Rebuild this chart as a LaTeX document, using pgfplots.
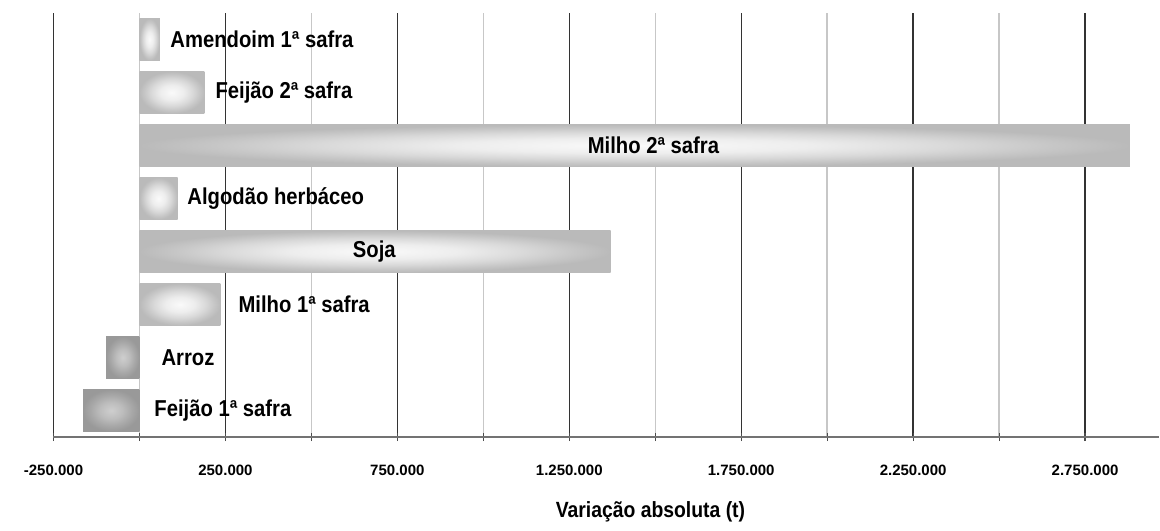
\documentclass[border=0pt]{standalone}
\usepackage{pgfplots}
\pgfplotsset{compat=1.18}
\usepackage{fontspec}
\setmainfont{Liberation Sans}
\newfontfamily\cond[FakeStretch=0.88]{Liberation Sans}
\pgfdeclareradialshading{barpos}{\pgfpoint{0bp}{0bp}}{color(0bp)=(white!98!black); color(9bp)=(white!93!black); color(16bp)=(white!85!black); color(21bp)=(white!78!black); color(25bp)=(white!73!black); color(50bp)=(white!73!black)}
\pgfdeclareradialshading{barneg}{\pgfpoint{0bp}{0bp}}{color(0bp)=(white!81!black); color(10bp)=(white!74!black); color(18bp)=(white!66!black); color(25bp)=(white!60!black); color(50bp)=(white!60!black)}
\begin{document}
\begin{tikzpicture}
\begin{axis}[
  scale only axis, width=552.75pt, height=212pt,
  xmin=-250000, xmax=2965000, ymin=0.5, ymax=8.5,
  axis x line*=bottom, axis y line=none,
  x axis line style={black!55, line width=0.9pt},
  scaled x ticks=false,
  xtick={-250000,250000,750000,1250000,1750000,2250000,2750000},
  xticklabels={-250.000,250.000,750.000,1.250.000,1.750.000,2.250.000,2.750.000},
  minor xtick={0,500000,1000000,1500000,2000000,2500000},
  xmajorgrids, xminorgrids,
  major grid style={black!80, line width=0.7pt},
  minor grid style={black!22, line width=0.7pt},
  tick align=center, major tick length=4pt, minor tick length=4pt,
  tick style={black!70, line width=0.6pt},
  xticklabel style={font=\bfseries\fontsize{7.5}{9}\selectfont, anchor=center, yshift=-14.5pt},
  xlabel={Variação absoluta (t)},
  xlabel style={at={(rel axis cs:0.54,0)}, anchor=center, yshift=-37.5pt, font=\cond\bfseries\fontsize{11}{13}\selectfont},
  ytick=\empty,
  clip=false,
  pos/.style={xbar, bar width=0.79, bar shift=0pt, draw=none, shade, shading=barpos},
  neg/.style={xbar, bar width=0.79, bar shift=0pt, draw=none, shade, shading=barneg},
]
\addplot[pos] coordinates {(59000,8)};
\addplot[pos] coordinates {(189000,7)};
\addplot[pos] coordinates {(2880000,6)};
\addplot[pos] coordinates {(111000,5)};
\addplot[pos] coordinates {(1370000,4)};
\addplot[pos] coordinates {(235000,3)};
\addplot[neg] coordinates {(-97000,2)};
\addplot[neg] coordinates {(-164000,1)};
\begin{scope}[every node/.style={inner sep=0pt, font=\cond\bfseries\fontsize{11.5}{13}\selectfont}]
\node[anchor=west] at (axis cs:89000,8) {Amendoim 1ª safra};
\node[anchor=west] at (axis cs:220000,7) {Feijão 2ª safra};
\node[anchor=center] at (axis cs:1494700,6) {Milho 2ª safra};
\node[anchor=west] at (axis cs:138500,5) {Algodão herbáceo};
\node[anchor=center] at (axis cs:683000,4) {Soja};
\node[anchor=west] at (axis cs:287000,3) {Milho 1ª safra};
\node[anchor=west] at (axis cs:63000,2) {Arroz};
\node[anchor=west] at (axis cs:42500,1) {Feijão 1ª safra};
\end{scope}
\coordinate (sw) at (rel axis cs:0,0);
\coordinate (ne) at (rel axis cs:1,1);
\end{axis}
\pgfresetboundingbox
\path[use as bounding box] ([shift={(-26.75pt,-46.5pt)}]sw) rectangle ([shift={(0.5pt,6.5pt)}]ne);
\end{tikzpicture}
\end{document}
